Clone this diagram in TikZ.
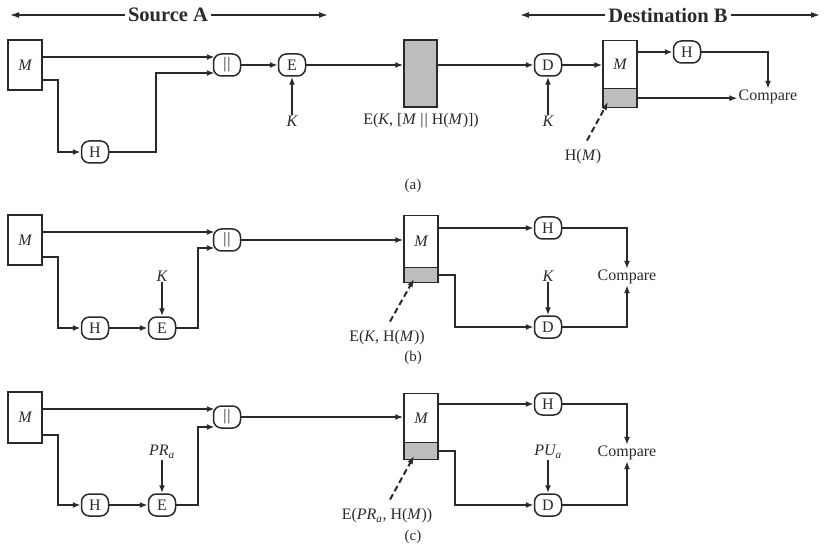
\documentclass[tikz,border=0pt]{standalone}
\usepackage{fontspec}
\setmainfont{Liberation Serif}
\usetikzlibrary{arrows.meta}
\definecolor{ink}{HTML}{2A2A2A}
\definecolor{shade}{HTML}{BDBDBD}
\tikzset{
  every node/.style={text=ink},
  fn/.style={draw=ink, line width=1.5pt, rounded corners=8pt, fill=white,
    minimum width=27pt, minimum height=22pt, inner sep=0pt,
    font=\fontsize{16}{17}\selectfont},
  msg/.style={draw=ink, line width=1.4pt, minimum width=34pt, inner sep=0pt,
    font=\fontsize{16}{17}\selectfont\itshape},
  tag/.style={fill=shade},
  lbl/.style={font=\fontsize{16}{17}\selectfont, inner sep=1pt},
  partlabel/.style={font=\fontsize{15}{16}\selectfont},
  head/.style={font=\fontsize{20.5}{22}\selectfont\bfseries, inner sep=3pt},
  flow/.style={draw=ink, line width=1.8pt, -{Latex[length=8pt,width=6pt]}},
  span/.style={draw=ink, line width=1.4pt, -{Latex[length=9pt,width=6pt]}},
  ptr/.style={draw=ink, line width=2pt, dash pattern=on 6pt off 3.5pt,
    -{Latex[length=8pt,width=6pt]}},
}
\newcommand{\cat}{|\kern1pt|}
\begin{document}
\begin{tikzpicture}[x=1pt,y=-1pt]
\useasboundingbox (0,0) rectangle (825,556);

% ---------- headers ----------
\node[head] (srcA) at (168,15) {Source A};
\coordinate (srcL) at (10,15);
\coordinate (srcR) at (328,15);
\draw[span] (srcA.west) -- (srcL);
\draw[span] (srcA.east) -- (srcR);
\node[head] (dstB) at (668,15) {Destination B};
\coordinate (dstL) at (520,15);
\coordinate (dstR) at (820,15);
\draw[span] (dstB.west) -- (dstL);
\draw[span] (dstB.east) -- (dstR);

% ---------- (a) ----------
\node[msg, minimum height=50pt] (aM) at (25,65) {M};
\node[fn] (aCat) at (227,65) {\cat};
\node[fn] (aH) at (95,152) {H};
\node[fn] (aE) at (292,65) {E};
\node[lbl] (aK) at (292,121) {\itshape K};
\node[draw=ink, line width=1.4pt, fill=shade, minimum width=33pt, minimum height=67pt] (aC) at (420.5,73.5) {};
\node[lbl] (aCl) at (421,121) {E(\textit{K}, [\textit{M} \cat{} H(\textit{M})])};
\node[fn] (aD) at (548,65) {D};
\node[lbl] (aKd) at (548,121) {\itshape K};
\node[msg, minimum height=48pt, anchor=north] (aRM) at (620,40) {M};
\node[msg, tag, minimum height=19pt, anchor=north] (aRT) at (620,88) {};
\node[fn] (aH2) at (687,52) {H};
\node[lbl] (aCmp) at (768,97) {Compare};
\node[lbl] (aHM) at (583,157) {H(\textit{M})};
\node[partlabel] (aCap) at (413,186) {(a)};

\draw[flow] ([yshift=8pt]aM.east) -- ([yshift=8pt,xshift=2pt]aCat.west);
\draw[flow] ([yshift=-15pt]aM.east) -| (58,152) -- (aH.west);
\draw[flow] (aH.east) -| (156,73) -- ([yshift=-8pt,xshift=2pt]aCat.west);
\draw[flow] (aCat.east) -- (aE.west);
\draw[flow] (aK.north) -- (aE.south);
\draw[flow] (aE.east) -- (aC.west |- aE);
\draw[flow] (aC.east |- aD) -- (aD.west);
\draw[flow] (aKd.north) -- (aD.south);
\draw[flow] (aD.east) -- (aRM.west |- aD);
\draw[flow] (aRM.east |- aH2) -- (aH2.west);
\draw[flow] (aH2.east) -| (aCmp.north);
\draw[flow] (aRT.east) -- (aRT.east -| aCmp.west);
\coordinate (aHit) at (608,102);
\draw[ptr] ([xshift=4pt,yshift=8pt]aHM.north) -- (aHit);

% ---------- (b) ----------
\node[msg, minimum height=50pt] (bM) at (25,240) {M};
\node[fn] (bCat) at (227,240) {\cat};
\node[fn] (bH) at (95,328) {H};
\node[fn] (bE) at (162,328) {E};
\node[lbl] (bK) at (162,276) {\itshape K};
\node[msg, minimum height=52pt, anchor=north] (bRM) at (421,215) {M};
\node[msg, tag, minimum height=15pt, anchor=north] (bRT) at (421,267) {};
\node[fn] (bH2) at (548,228) {H};
\node[fn] (bD) at (548,327) {D};
\node[lbl] (bKd) at (548,276) {\itshape K};
\node[lbl] (bCmp) at (627,277) {Compare};
\node[lbl] (bEl) at (387,338) {E(\textit{K}, H(\textit{M}))};
\node[partlabel] (bCap) at (413,358) {(b)};

\draw[flow] ([yshift=8pt]bM.east) -- ([yshift=8pt,xshift=2pt]bCat.west);
\draw[flow] ([yshift=-17pt]bM.east) -| (58,328) -- (bH.west);
\draw[flow] (bH.east) -- (bE.west);
\draw[flow] (bK.south) -- (bE.north);
\draw[flow] (bE.east) -| (198,248) -- ([yshift=-8pt,xshift=2pt]bCat.west);
\draw[flow] (bCat.east) -- (bRM.west |- bCat);
\draw[flow] (bRM.east |- bH2) -- (bH2.west);
\draw[flow] (bH2.east) -| (bCmp.north);
\draw[flow] (bRT.east) -| (455,327) -- (bD.west);
\draw[flow] (bKd.south) -- (bD.north);
\draw[flow] (bD.east) -| (bCmp.south);
\coordinate (bHit) at (414,279);
\draw[ptr] ([xshift=3pt,yshift=8pt]bEl.north) -- (bHit);

% ---------- (c) ----------
\node[msg, minimum height=51pt] (cM) at (25,417.5) {M};
\node[fn] (cCat) at (227,417) {\cat};
\node[fn] (cH) at (95,505) {H};
\node[fn] (cE) at (162,505) {E};
\node[lbl] (cK) at (162,452) {\textit{PR\textsubscript{a}}};
\node[msg, minimum height=49pt, anchor=north] (cRM) at (421,393) {M};
\node[msg, tag, minimum height=17pt, anchor=north] (cRT) at (421,442) {};
\node[fn] (cH2) at (548,404) {H};
\node[fn] (cD) at (548,505) {D};
\node[lbl] (cKd) at (548,452) {\textit{PU\textsubscript{a}}};
\node[lbl] (cCmp) at (627,453) {Compare};
\node[lbl] (cEl) at (387,516) {E(\textit{PR\textsubscript{a}}, H(\textit{M}))};
\node[partlabel] (cCap) at (413,537) {(c)};

\draw[flow] ([yshift=8.5pt]cM.east) -- ([yshift=8pt,xshift=2pt]cCat.west);
\draw[flow] ([yshift=-17.5pt]cM.east) -| (58,505) -- (cH.west);
\draw[flow] (cH.east) -- (cE.west);
\draw[flow] (cK.south) -- (cE.north);
\draw[flow] (cE.east) -| (198,427) -- ([yshift=-10pt,xshift=2pt]cCat.west);
\draw[flow] (cCat.east) -- (cRM.west |- cCat);
\draw[flow] (cRM.east |- cH2) -- (cH2.west);
\draw[flow] (cH2.east) -| (cCmp.north);
\draw[flow] (cRT.east) -| (455,505) -- (cD.west);
\draw[flow] (cKd.south) -- (cD.north);
\draw[flow] (cD.east) -| (cCmp.south);
\coordinate (cHit) at (414,456);
\draw[ptr] ([xshift=3pt,yshift=8pt]cEl.north) -- (cHit);
\end{tikzpicture}
\end{document}
